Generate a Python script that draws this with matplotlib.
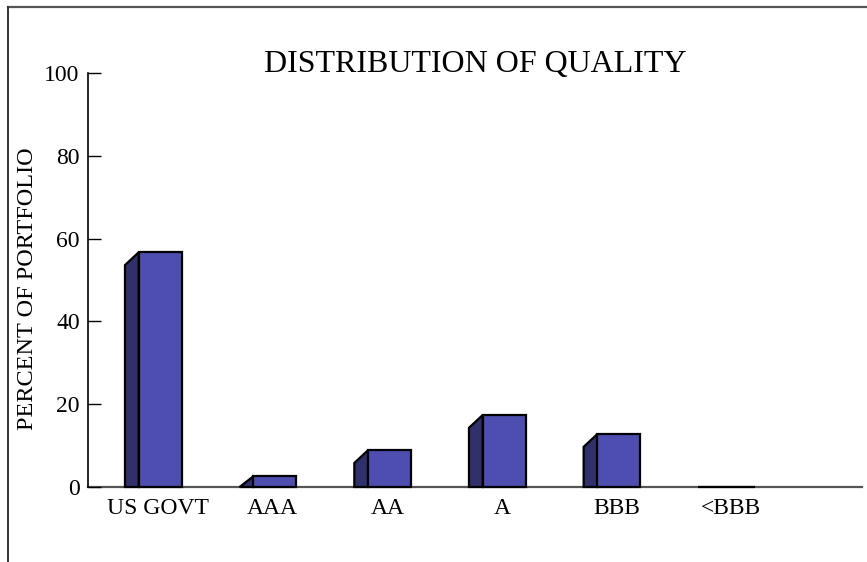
import matplotlib
matplotlib.use("Agg")
import matplotlib.pyplot as plt
from matplotlib.patches import Polygon
from matplotlib.lines import Line2D

plt.rcParams['font.family'] = ['Liberation Serif', 'DejaVu Serif']

categories = ["US GOVT", "AAA", "AA", "A", "BBB", "<BBB"]
percent = [56.7, 2.6, 8.9, 17.4, 12.8, 0.0]
yticks = [0, 20, 40, 60, 80, 100]

front_color = "#4e4eb0"
side_color = "#30306a"
bar_w = 0.375   # width of the front face
depth_x = 0.12  # side face offset, x units
depth_y = 3.1   # side face offset, y units

fig = plt.figure(figsize=(8.67, 5.62), dpi=100)
ax = fig.add_axes([88/867, 75/562, 774/867, 414/562])

positions = list(range(len(categories)))

# fake 3d bars: dark side face on the left, blue front face
for x, v in zip(positions, percent):
    xl = x - bar_w / 2
    side = Polygon([(xl - depth_x, 0), (xl - depth_x, max(v - depth_y, 0)),
                    (xl, v), (xl, 0)],
                   closed=True, facecolor=side_color, edgecolor="black",
                   linewidth=1.6, clip_on=False, zorder=3)
    ax.add_patch(side)
ax.bar(positions, percent, width=bar_w, color=front_color, edgecolor="black",
       linewidth=1.6, clip_on=False, zorder=3)

ax.set_xlim(-0.63, 6.12)
ax.set_ylim(0, 100)
ax.set_yticks(yticks)
ax.set_xticks([p - 0.02 for p in positions])
ax.set_xticklabels(categories)

ax.spines['top'].set_visible(False)
ax.spines['right'].set_visible(False)
ax.spines['left'].set_linewidth(1.2)
ax.spines['bottom'].set_color("#555555")
ax.spines['bottom'].set_linewidth(1.6)
ax.spines['bottom'].set_zorder(1)

ax.tick_params(axis='y', direction='in', length=9, width=1.0, pad=6, labelsize=17)
ax.tick_params(axis='x', length=0, pad=8, labelsize=17)
ax.set_ylabel("PERCENT OF PORTFOLIO", fontsize=17.5)
ax.yaxis.set_label_coords(-0.064, 0.48)
ax.set_title("DISTRIBUTION OF QUALITY", fontsize=23, y=1.0, pad=1, loc='center')

# outer frame lines along top and left
fig.add_artist(Line2D([8/867, 1], [1 - 7/562, 1 - 7/562], color="#555555", linewidth=1.6))
fig.add_artist(Line2D([8/867, 8/867], [0, 1 - 7/562], color="#333333", linewidth=1.4))

fig.savefig("out.png", dpi=100)
